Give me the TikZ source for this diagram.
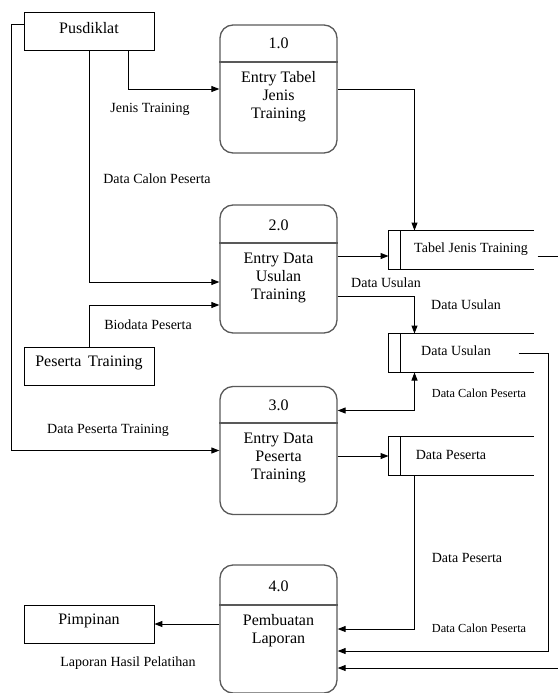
\documentclass[tikz,border=0pt]{standalone}
\usepackage{fontspec}
\setmainfont{Liberation Serif}
\usetikzlibrary{arrows.meta}

\newcommand{\procfont}{\fontsize{16}{18}\selectfont}
\newcommand{\lblfont}{\fontsize{14}{16}\selectfont}
\newcommand{\smlfont}{\fontsize{12.3}{14}\selectfont}

\begin{document}
\begin{tikzpicture}[x=1pt,y=-1pt,line width=1pt,
    >={Triangle[length=8pt,width=6pt]},
    proc/.style={draw=black!65,line width=1.3pt,rounded corners=13pt,minimum width=117pt,minimum height=128pt,inner sep=0pt},
    ent/.style={draw,line width=0.8pt,minimum width=130pt,minimum height=38pt,inner sep=0pt},
    store/.style={minimum width=144pt,minimum height=38pt,inner sep=0pt},
    flow/.style={->},
    lbl/.style={font=\lblfont,inner sep=0pt},
    lbls/.style={font=\smlfont,inner sep=0pt}]

        \useasboundingbox (0,0) rectangle (557,693);

        % external entities
        \node[ent] (pus) at (89,31) {};
        \node[font=\procfont] (pust) at (89,28) {Pusdiklat};
        \node[ent] (pst) at (89,366) {};
        \node[font=\procfont] (pstt) at (89,363) {Peserta\, Training};
        \node[ent] (pim) at (89,624) {};
        \node[font=\procfont] (pimt) at (89,621) {Pimpinan};

        % processes
        \node[proc] (p1) at (278.5,89) {};
        \draw[black!65,line width=1.1pt] (p1.west |- 0,62) -- (p1.east |- 0,62);
        \node[font=\procfont] (p1n) at (278.5,43) {1.0};
        \node[font=\procfont,align=center] (p1t) at (278.5,97) {Entry Tabel\\Jenis\\Training};

        \node[proc] (p2) at (278.5,269) {};
        \draw[black!65,line width=1.1pt] (p2.west |- 0,243) -- (p2.east |- 0,243);
        \node[font=\procfont] (p2n) at (278.5,225) {2.0};
        \node[font=\procfont,align=center] (p2t) at (278.5,278) {Entry Data\\Usulan\\Training};

        \node[proc] (p3) at (278.5,450.5) {};
        \draw[black!65,line width=1.1pt] (p3.west |- 0,423) -- (p3.east |- 0,423);
        \node[font=\procfont] (p3n) at (278.5,405) {3.0};
        \node[font=\procfont,align=center] (p3t) at (278.5,458) {Entry Data\\Peserta\\Training};

        \node[proc] (p4) at (278.5,629) {};
        \draw[black!65,line width=1.1pt] (p4.west |- 0,605) -- (p4.east |- 0,605);
        \node[font=\procfont] (p4n) at (278.5,586) {4.0};
        \node[font=\procfont,align=center] (p4t) at (278.5,631) {Pembuatan\\Laporan};

        % data stores
        \node[store] (s1) at (461,250) {};
        \node[lbl] (s1t) at (471,249) {Tabel Jenis Training};
        \node[store] (s2) at (461,353) {};
        \node[lbl] (s2t) at (456,351) {Data Usulan};
        \node[store] (s3) at (461,456) {};
        \node[lbl] (s3t) at (451,455) {Data Peserta};
        \foreach \s in {s1,s2,s3}{
            \draw (\s.north east) -- (\s.north west) -- (\s.south west) -- (\s.south east);
            \draw ([xshift=12pt]\s.north west) -- ([xshift=12pt]\s.south west);
        }

        % flows
        \draw[flow] ([xshift=39pt]pus.south) |- (p1.west);
        \draw[flow] (pus.south) |- ([yshift=-13pt]p2.west);
        \draw[flow] (pst.north) |- ([yshift=-36pt]p2.west);
        \draw[flow] ([yshift=6pt]pus.west) -- ++(-12,0) |- (p3.west);
        \draw[flow] (p1.east) -| ([xshift=26pt]s1.north west);
        \draw[flow] ([yshift=13pt]p2.east) -- ([yshift=13pt]p2.east -| s1.west);
        \draw[flow] ([yshift=-27pt]p2.east) -| ([xshift=26pt]s2.north west);
        \draw[<->] ([xshift=26pt]s2.south west) |- ([yshift=40pt]p3.east);
        \draw[flow] (p3.east |- s3.west) -- (s3.west);
        \draw[flow] ([xshift=26pt]s3.south west) |- (p4.east);
        \draw[flow] ([xshift=-15pt]s2.east) -- ([xshift=15pt]s2.east) |- ([yshift=-22pt]p4.east);
        \draw[flow] ([xshift=4pt,yshift=-6pt]s1.east) -- ([xshift=30pt,yshift=-6pt]s1.east) |- ([yshift=-39pt]p4.east);
        \draw[flow] (p4.west |- pim.east) -- (pim.east);

        % labels
        \node[lbl] (l1) at (150,109) {Jenis Training};
        \node[lbl] (l2) at (157,179) {Data Calon Peserta};
        \node[lbl] (l3) at (148,325) {Biodata Peserta};
        \node[lbl] (l4) at (108,430) {Data Peserta Training};
        \node[lbl] (l5) at (386,283) {Data Usulan};
        \node[lbl] (l6) at (466,305) {Data Usulan};
        \node[lbls] (l7) at (479,393) {Data Calon Peserta};
        \node[lbl] (l8) at (467,558) {Data Peserta};
        \node[lbls] (l9) at (479,628) {Data Calon Peserta};
        \node[lbl] (l10) at (128,663) {Laporan Hasil Pelatihan};
   \end{tikzpicture}
\end{document}
